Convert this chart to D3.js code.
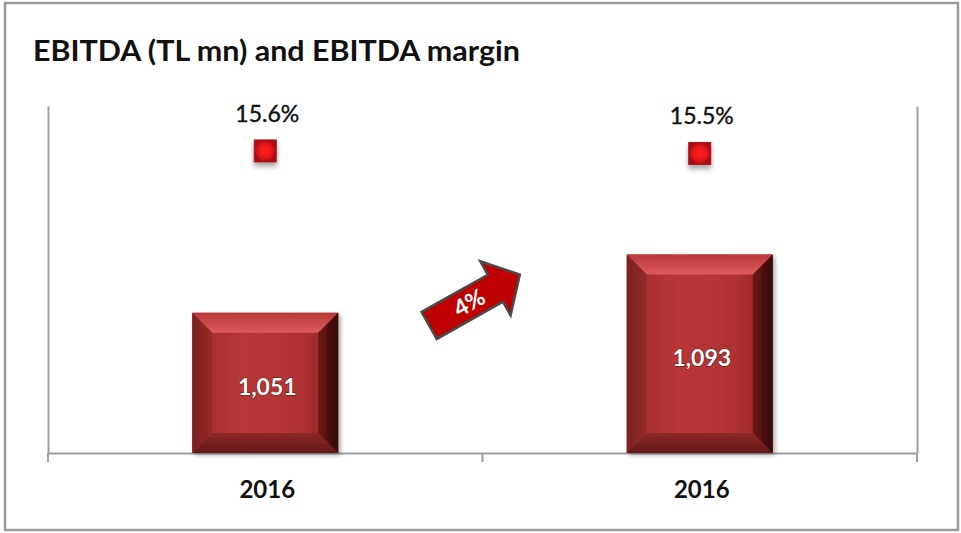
<!DOCTYPE html>
<html>
<head>
<meta charset="utf-8">
<script src="https://cdn.jsdelivr.net/npm/d3@7"></script>
<style>
  body { margin: 0; background: #fff; }
  text { font-family: Lato, "Open Sans", sans-serif; }
</style>
</head>
<body>
<div id="chart"></div>
<script>
// data
const categories = ["2016", "2016"];
const ebitda = [1051, 1093];
const margin = [15.6, 15.5];
const growthLabel = "4%";
const title = "EBITDA (TL mn) and EBITDA margin";

const W = 961, H = 533;
const plot = { left: 48, right: 917, top: 106, bottom: 453 };

const svg = d3.select("#chart").append("svg")
    .attr("width", W)
    .attr("height", H);

const defs = svg.append("defs");

function grad(id, stops, x2, y2) {
    const g = defs.append("linearGradient").attr("id", id)
        .attr("x1", 0).attr("y1", 0).attr("x2", x2).attr("y2", y2);
    stops.forEach(s => g.append("stop").attr("offset", s[0]).attr("stop-color", s[1]));
}
grad("face", [[0, "#a02c2c"], [0.35, "#b83737"], [0.7, "#b23333"], [1, "#922424"]], 1, 0);
grad("bevTop", [[0, "#b83838"], [1, "#dc5c5c"]], 0, 1);
grad("bevBot", [[0, "#8e2828"], [1, "#621818"]], 0, 1);
grad("bevLeft", [[0, "#7c2222"], [1, "#962a2a"]], 1, 0);
grad("bevRight", [[0, "#6e1818"], [1, "#320808"]], 1, 0);

const shadow = defs.append("filter").attr("id", "shadow")
    .attr("x", "-20%").attr("y", "-20%").attr("width", "150%").attr("height", "150%");
shadow.append("feDropShadow").attr("dx", 2).attr("dy", 2).attr("stdDeviation", 2)
    .attr("flood-color", "#000").attr("flood-opacity", 0.35);

const mshadow = defs.append("filter").attr("id", "mshadow")
    .attr("x", "-50%").attr("y", "-50%").attr("width", "200%").attr("height", "220%");
mshadow.append("feDropShadow").attr("dx", 0).attr("dy", 4).attr("stdDeviation", 2.5)
    .attr("flood-color", "#000").attr("flood-opacity", 0.35);

const rg = defs.append("radialGradient").attr("id", "mark");
rg.append("stop").attr("offset", 0).attr("stop-color", "#ff2020");
rg.append("stop").attr("offset", 0.6).attr("stop-color", "#e8161a");
rg.append("stop").attr("offset", 1).attr("stop-color", "#a80e12");

// frame
svg.append("rect")
    .attr("x", 5).attr("y", 3)
    .attr("width", 953).attr("height", 527)
    .attr("fill", "#fff")
    .attr("stroke", "#9a9a9a")
    .attr("stroke-width", 2.5);

// title
svg.append("text")
    .attr("x", 33).attr("y", 61)
    .attr("textLength", 487)
    .attr("lengthAdjust", "spacingAndGlyphs")
    .style("font-size", "29px")
    .style("font-weight", "bold")
    .attr("fill", "#111")
    .text(title);

const x = d3.scaleBand()
    .domain(d3.range(categories.length))
    .range([plot.left, plot.right])
    .paddingInner(0.664)
    .paddingOuter(0.332);

const y = d3.scaleLinear()
    .domain([950, 1200])
    .range([plot.bottom, plot.top]);

const y2 = d3.scaleLinear()
    .domain([3.5, 17.4])
    .range([plot.bottom, plot.top]);

// axes
const axisColor = "#a0a0a0";
svg.append("g")
    .attr("transform", `translate(${plot.left},0)`)
    .call(d3.axisLeft(y).tickValues([]).tickSizeOuter(0))
    .call(g => g.select(".domain").attr("stroke", axisColor).attr("stroke-width", 2));
svg.append("g")
    .attr("transform", `translate(${plot.right},0)`)
    .call(d3.axisRight(y2).tickValues([]).tickSizeOuter(0))
    .call(g => g.select(".domain").attr("stroke", axisColor).attr("stroke-width", 2));

const bottom = svg.append("g")
    .attr("transform", `translate(0,${plot.bottom})`)
    .call(d3.axisBottom(x).tickSize(0).tickSizeOuter(0).tickPadding(28)
        .tickFormat(i => categories[i]));
bottom.select(".domain").attr("stroke", axisColor).attr("stroke-width", 2);
bottom.selectAll("text")
    .style("font-size", "24px")
    .style("font-weight", "bold")
    .style("font-family", "Lato, sans-serif")
    .attr("fill", "#111")
    .attr("dx", 2);

// boundary ticks between categories
const bounds = d3.range(categories.length + 1).map(i => plot.left + i * x.step());
bottom.selectAll(".bound")
    .data(bounds)
    .enter().append("line")
    .attr("class", "bound")
    .attr("x1", d => d).attr("x2", d => d)
    .attr("y1", 0).attr("y2", 9)
    .attr("stroke", axisColor)
    .attr("stroke-width", 2);

// bars with bevel
const bev = 20;
const bars = svg.selectAll(".bar")
    .data(ebitda)
    .enter().append("g")
    .attr("class", "bar")
    .attr("filter", "url(#shadow)");

bars.each(function (d, i) {
    const g = d3.select(this);
    const x0 = x(i), x1 = x(i) + x.bandwidth();
    const y0 = y(d), y1 = y(y.domain()[0]);
    g.append("rect")
        .attr("x", x0).attr("y", y0)
        .attr("width", x1 - x0).attr("height", y1 - y0)
        .attr("fill", "url(#face)");
    const poly = (pts, fill) => g.append("polygon")
        .attr("points", pts.map(p => p.join(",")).join(" "))
        .attr("fill", fill);
    poly([[x0, y0], [x1, y0], [x1 - bev, y0 + bev], [x0 + bev, y0 + bev]], "url(#bevTop)");
    poly([[x0, y1], [x1, y1], [x1 - bev, y1 - bev], [x0 + bev, y1 - bev]], "url(#bevBot)");
    poly([[x0, y0], [x0 + bev, y0 + bev], [x0 + bev, y1 - bev], [x0, y1]], "url(#bevLeft)");
    poly([[x1, y0], [x1 - bev, y0 + bev], [x1 - bev, y1 - bev], [x1, y1]], "url(#bevRight)");
});

svg.selectAll(".value")
    .data(ebitda)
    .enter().append("text")
    .attr("class", "value")
    .attr("x", (d, i) => x(i) + x.bandwidth() / 2 + 2)
    .attr("y", d => (y(d) + y(y.domain()[0])) / 2 + 12)
    .attr("text-anchor", "middle")
    .style("font-size", "23px")
    .style("font-weight", "bold")
    .style("paint-order", "stroke")
    .attr("stroke", "#5a1010")
    .attr("stroke-width", 1)
    .attr("fill", "#fff")
    .text(d => d3.format(",")(d));

// margin markers
const ms = 22;
svg.selectAll(".mark")
    .data(margin)
    .enter().append("rect")
    .attr("class", "mark")
    .attr("x", (d, i) => x(i) + x.bandwidth() / 2 - ms / 2)
    .attr("y", d => y2(d) - ms / 2)
    .attr("width", ms).attr("height", ms)
    .attr("fill", "url(#mark)")
    .attr("stroke", "#b01418")
    .attr("stroke-width", 1)
    .attr("filter", "url(#mshadow)");

svg.selectAll(".mlabel")
    .data(margin)
    .enter().append("text")
    .attr("class", "mlabel")
    .attr("x", (d, i) => x(i) + x.bandwidth() / 2 + 2)
    .attr("y", d => y2(d) - 29)
    .attr("text-anchor", "middle")
    .style("font-size", "23px")
    .attr("fill", "#111")
    .attr("stroke", "#111")
    .attr("stroke-width", 0.4)
    .text(d => d.toFixed(1) + "%");

// growth arrow between the bars
const ax = (x(0) + x(1) + x.bandwidth()) / 2 - 8;
const ay = 300;
const arrow = svg.append("g")
    .attr("transform", `translate(${ax},${ay}) rotate(-29.3)`);
const L = 52, sw = 15.5, hw = 31, hl = 28;
arrow.append("polygon")
    .attr("points", [[-L, -sw], [L - hl, -sw], [L - hl, -hw], [L, 0], [L - hl, hw], [L - hl, sw], [-L, sw]]
        .map(p => p.join(",")).join(" "))
    .attr("fill", "#c00000")
    .attr("stroke", "#4a4a4a")
    .attr("stroke-width", 2.5)
    .attr("stroke-linejoin", "miter");
arrow.append("text")
    .attr("x", -6).attr("y", 8)
    .attr("text-anchor", "middle")
    .style("font-size", "23px")
    .style("font-weight", "bold")
    .attr("fill", "#fff")
    .text(growthLabel);
</script>
</body>
</html>
